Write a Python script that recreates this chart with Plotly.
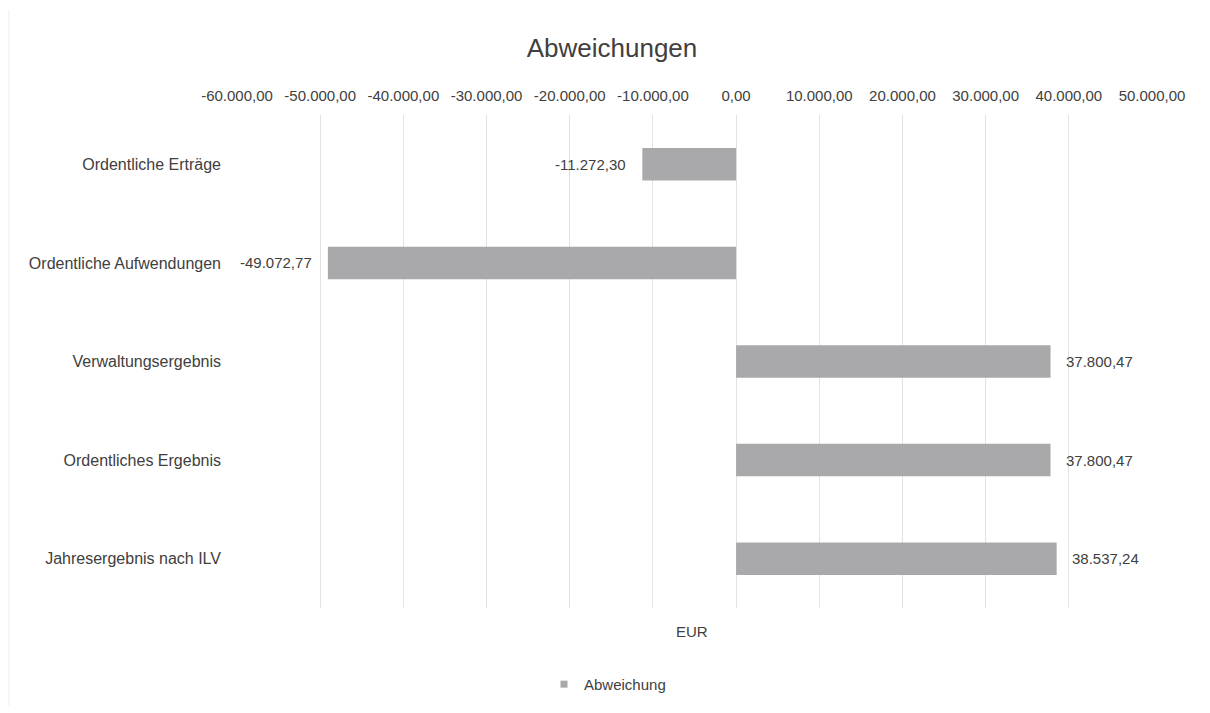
import plotly.graph_objects as go

# Abweichungen je Position (EUR)
categories = [
    "Ordentliche Erträge",
    "Ordentliche Aufwendungen",
    "Verwaltungsergebnis",
    "Ordentliches Ergebnis",
    "Jahresergebnis nach ILV",
]
values = [-11272.30, -49072.77, 37800.47, 37800.47, 38537.24]
tick_values = [-60000, -50000, -40000, -30000, -20000, -10000, 0, 10000, 20000, 30000, 40000, 50000]


def de_format(v):
    s = f"{v:,.2f}"
    return s.replace(",", "X").replace(".", ",").replace("X", ".")


FONT = "Liberation Sans, Arial, sans-serif"
TEXT = "#404040"
BAR = "#a9a9ab"

W, H = 1210, 713
L, R, T, B = 237, 58, 115, 103
plot_w = W - L - R

fig = go.Figure()
fig.add_trace(go.Bar(
    y=categories,
    x=values,
    orientation="h",
    name="Abweichung",
    marker=dict(color=BAR, line=dict(width=0)),
    width=0.33,
    showlegend=False,
))
# legend entry with a small square swatch
fig.add_trace(go.Scatter(
    x=[None], y=[None],
    mode="markers",
    name="Abweichung",
    marker=dict(symbol="square", size=7, color=BAR),
    showlegend=True,
))

# value labels beside the bar ends
for cat, v in zip(categories, values):
    fig.add_annotation(
        x=v, y=cat,
        xref="x", yref="y",
        text=de_format(v),
        showarrow=False,
        xanchor="left" if v >= 0 else "right",
        xshift=13 if v >= 0 else -14,
        font=dict(family=FONT, size=15, color=TEXT),
    )

fig.update_layout(
    width=W,
    height=H,
    margin=dict(l=L, r=R, t=T, b=B),
    paper_bgcolor="white",
    plot_bgcolor="white",
    font=dict(family=FONT, size=15, color=TEXT),
    title=dict(
        text="Abweichungen",
        x=612 / W, xref="container", xanchor="center",
        y=1 - 48 / H, yref="container", yanchor="middle",
        font=dict(family=FONT, size=26, color=TEXT),
    ),
    showlegend=True,
    legend=dict(
        orientation="h",
        x=(544 - L) / plot_w, xanchor="left",
        y=-0.155, yanchor="middle",
        font=dict(family=FONT, size=15, color=TEXT),
        itemwidth=30,
    ),
)

fig.update_xaxes(
    side="top",
    range=[-60000, 50000],
    tickvals=tick_values,
    ticktext=[de_format(v) for v in tick_values],
    tickfont=dict(family=FONT, size=15, color=TEXT),
    showgrid=True,
    gridcolor="#e2e2e2",
    gridwidth=1,
    zeroline=False,
    showline=False,
    ticks="",
    ticklabelstandoff=10,
)
fig.update_yaxes(
    categoryorder="array",
    categoryarray=categories,
    autorange="reversed",
    showgrid=False,
    zeroline=False,
    showline=False,
    ticks="",
    tickfont=dict(family=FONT, size=16, color=TEXT),
    ticklabelstandoff=15,
)

fig.add_annotation(
    text="EUR",
    xref="paper", yref="paper",
    x=(692 - L) / plot_w, y=-0.047,
    xanchor="center", yanchor="middle",
    showarrow=False,
    font=dict(family=FONT, size=15, color=TEXT),
)

# faint chart-area border on the left
fig.add_shape(
    type="line",
    xref="paper", yref="paper",
    x0=(9 - L) / plot_w, x1=(9 - L) / plot_w,
    y0=-(B - 5) / (H - T - B), y1=1 + (T - 10) / (H - T - B),
    line=dict(color="#ececec", width=1),
)

fig.write_html("out.html")
